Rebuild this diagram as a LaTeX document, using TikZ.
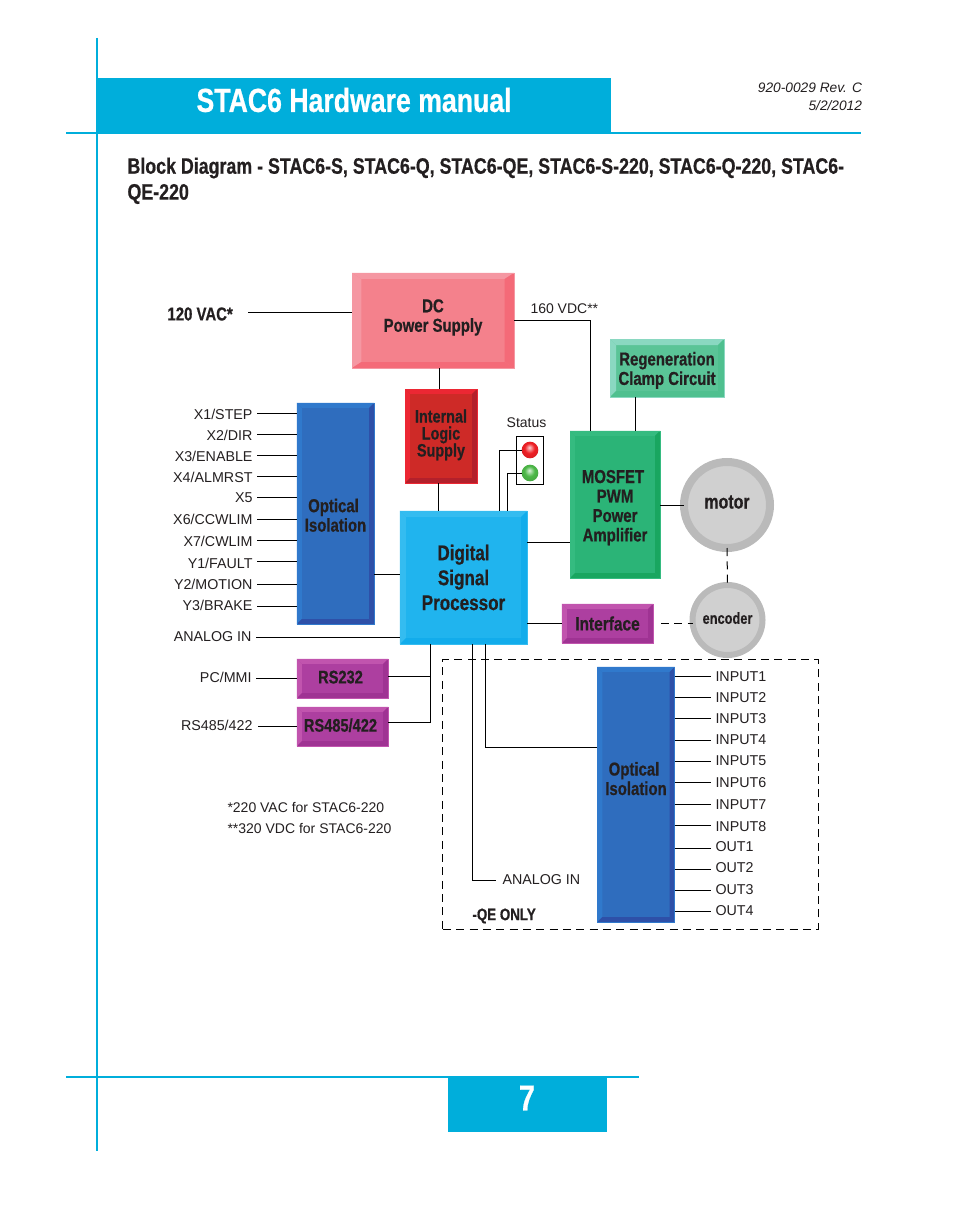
\documentclass[tikz,border=0pt]{standalone}
\usepackage{fontspec}
\setmainfont{Liberation Sans}
\newfontfamily\condfont[FakeStretch=0.8,FakeBold=0.6]{Liberation Sans Bold}

\definecolor{inktext}{HTML}{231F20}
\definecolor{pageblue}{HTML}{00AEDB}
\definecolor{dcface}{HTML}{F4818C}
\definecolor{dclight}{HTML}{F597A2}
\definecolor{dcdark}{HTML}{F46A78}
\definecolor{logicface}{HTML}{CE2A27}
\definecolor{logiclight}{HTML}{EC2733}
\definecolor{logicdark}{HTML}{B3202B}
\definecolor{dspface}{HTML}{20B4EE}
\definecolor{dsplight}{HTML}{34BCF0}
\definecolor{dspdark}{HTML}{12ACEB}
\definecolor{fetface}{HTML}{2BB477}
\definecolor{fetlight}{HTML}{35BB80}
\definecolor{fetdark}{HTML}{19A660}
\definecolor{regenface}{HTML}{5AC497}
\definecolor{regenlight}{HTML}{8AD8C1}
\definecolor{regendark}{HTML}{4FC08F}
\definecolor{purpleface}{HTML}{AD3FA0}
\definecolor{purplelight}{HTML}{C154AE}
\definecolor{purpledark}{HTML}{9F3393}
\definecolor{isoface}{HTML}{2F6DBE}
\definecolor{isolight}{HTML}{3079CC}
\definecolor{isodark}{HTML}{2E50A8}
\definecolor{ringgray}{HTML}{BABABA}
\definecolor{discgray}{HTML}{D0D0D0}
\definecolor{ledred}{HTML}{EE2025}
\definecolor{ledgreen}{HTML}{4DB848}

\pgfdeclareradialshading{lamp_red}{\pgfpoint{-2bp}{8bp}}{color(0bp)=(white!80!ledred); color(15bp)=(ledred); color(30bp)=(ledred!90!black); color(50bp)=(ledred!90!black)}
\pgfdeclareradialshading{lamp_green}{\pgfpoint{-2bp}{8bp}}{color(0bp)=(white!80!ledgreen); color(15bp)=(ledgreen); color(30bp)=(ledgreen!90!black); color(50bp)=(ledgreen!90!black)}

% light colour, dark colour, bevel across, bevel down
\newcommand{\bevelfaces}[4]{
    \coordinate (nw) at (path picture bounding box.north west);
    \coordinate (ne) at (path picture bounding box.north east);
    \coordinate (sw) at (path picture bounding box.south west);
    \coordinate (se) at (path picture bounding box.south east);
    \coordinate (inw) at ([shift={(#3,-#4)}]nw);
    \coordinate (ine) at ([shift={(-#3,-#4)}]ne);
    \coordinate (isw) at ([shift={(#3,#4)}]sw);
    \coordinate (ise) at ([shift={(-#3,#4)}]se);
    \fill[#1] (nw) -- (ne) -- (ine) -- (inw) -- cycle;
    \fill[#1] (nw) -- (sw) -- (isw) -- (inw) -- cycle;
    \fill[#2] (sw) -- (se) -- (ise) -- (isw) -- cycle;
    \fill[#2] (ne) -- (se) -- (ise) -- (ine) -- cycle;
}
\newcommand{\blockfont}[2]{\condfont\fontsize{#1}{#2}\selectfont}
\newcommand{\nudge}{\hspace*{3pt}}

\begin{document}
\begin{tikzpicture}[x=0.75pt, y=-0.75pt, line width=0.75pt, text=inktext]
    \tikzstyle{box_style} = [rectangle, outer sep=0pt, inner sep=0pt, align=center, line width=0.4pt, font=\blockfont{14}{14.6}]
    \tikzstyle{dc_style} = [box_style, fill=dcface, draw=dclight, path picture={\bevelfaces{dclight}{dcdark}{7pt}{4.5pt}}]
    \tikzstyle{logic_style} = [box_style, fill=logicface, draw=logiclight, font=\blockfont{13.5}{12.75}, path picture={\bevelfaces{logiclight}{logicdark}{3.7pt}{3.7pt}}]
    \tikzstyle{dsp_style} = [box_style, fill=dspface, draw=dsplight, font=\blockfont{16}{18.7}, path picture={\bevelfaces{dsplight}{dspdark}{4.5pt}{4.5pt}}]
    \tikzstyle{fet_style} = [box_style, fill=fetface, draw=fetlight, path picture={\bevelfaces{fetlight}{fetdark}{3.7pt}{3.7pt}}]
    \tikzstyle{regen_style} = [box_style, fill=regenface, draw=regenlight, path picture={\bevelfaces{regenlight}{regendark}{4.5pt}{4.5pt}}]
    \tikzstyle{purple_style} = [box_style, fill=purpleface, draw=purplelight, path picture={\bevelfaces{purplelight}{purpledark}{3.7pt}{3.7pt}}]
    \tikzstyle{iso_style} = [box_style, fill=isoface, draw=isolight, minimum width=58pt, path picture={\bevelfaces{isolight}{isodark}{3.7pt}{3.7pt}}]
    \tikzstyle{disc_style} = [circle, fill=discgray, draw=ringgray, outer sep=0pt, inner sep=0pt, align=center]
    \tikzstyle{sig_left} = [anchor=east, inner sep=0pt, font=\fontsize{10.7}{12}\selectfont]
    \tikzstyle{sig_right} = [anchor=west, inner sep=0pt, font=\fontsize{10.7}{12}\selectfont]
    \tikzstyle{note_style} = [anchor=west, inner sep=0pt, font=\fontsize{10.5}{12}\selectfont]
    \tikzstyle{edge_style} = [line width=0.75pt]
    \tikzstyle{dash_style} = [line width=0.75pt, dash pattern=on 6pt off 4pt]

    \useasboundingbox (0,0) rectangle (954,1209);

    % page furniture
    \fill[pageblue] (97,78) rectangle (611,133);
    \fill[pageblue] (448,1077) rectangle (607,1132);
    \draw[pageblue, line width=1.5pt] (97,38) -- (97,1151);
    \draw[pageblue, line width=1.5pt] (66,133) -- (861,133);
    \draw[pageblue, line width=1.5pt] (66,1077) -- (639,1077);

    \node[anchor=west, inner sep=0pt, text=white, font=\blockfont{25}{30}] (title) at (196,100) {STAC6 Hardware manual};
    \node[anchor=east, inner sep=0pt, font=\itshape\fontsize{10.3}{12}\selectfont] (rev) at (862.5,88) {920-0029 Rev. C};
    \node[anchor=east, inner sep=0pt, font=\itshape\fontsize{10.3}{12}\selectfont] (date) at (862.5,106) {5/2/2012};
    \node[anchor=west, inner sep=0pt, font=\blockfont{16.7}{17}] (head1) at (127,168) {Block Diagram - STAC6-S, STAC6-Q, STAC6-QE, STAC6-S-220, STAC6-Q-220, STAC6-};
    \node[anchor=west, inner sep=0pt, font=\blockfont{16.7}{17}] (head2) at (127,194) {QE-220};
    \node[inner sep=0pt, text=white, font=\blockfont{27}{30}] (page) at (527,1098) {7};

    % blocks
    \node[dc_style, minimum width=121.5pt, minimum height=71.3pt] (dc) at (433,320.5) {DC\\Power Supply\\[-7.1pt]};
    \node[logic_style, minimum width=54pt, minimum height=70.5pt] (logic) at (441,436) {Internal\\Logic\\Supply\\[-8.25pt]};
    \node[dsp_style, minimum width=95.3pt, minimum height=99.8pt] (dsp) at (463.5,577.5) {Digital\\Signal\\Processor};
    \node[fet_style, minimum width=67.5pt, minimum height=110.3pt] (fet) at (615,504.5) {MOSFET\nudge\\PWM\nudge\\Power\nudge\\Amplifier\nudge\\[-16.4pt]};
    \node[regen_style, minimum width=85.5pt, minimum height=43.5pt] (regen) at (667,368) {Regeneration\\Clamp Circuit\\[-15.2pt]};
    \node[purple_style, minimum width=68.3pt, minimum height=29.3pt, font=\blockfont{14.5}{16}] (interface) at (607.5,623.5) {Interface};
    \node[iso_style, minimum height=165.8pt] (iso1) at (335.5,513.5) {Optical\nudge\\Isolation\nudge\\[-17pt]};
    \node[iso_style, minimum height=191.3pt] (iso2) at (636,794.5) {Optical\nudge\\Isolation\nudge\\[9.4pt]};
    \node[purple_style, minimum width=68.3pt, minimum height=29.3pt, font=\blockfont{13.7}{14.6}] (rs232) at (342.5,678.5) {RS232\nudge\\[-12.4pt]};
    \node[purple_style, minimum width=68.3pt, minimum height=29.3pt, font=\blockfont{13.7}{14.6}] (rs485) at (342.5,726.5) {RS485/422\nudge\\[-12.4pt]};
    \node[disc_style, minimum size=64.5pt, line width=6pt, font=\blockfont{15}{17}] (motor) at (727,505) {motor\\[-12.5pt]};
    \node[disc_style, minimum size=52.5pt, line width=4.5pt, font=\blockfont{12}{14}] (encoder) at (727.5,620) {encoder\\[-11pt]};

    % status lamp
    \node[draw, rectangle, line width=1.1pt, minimum width=20pt, minimum height=36pt, outer sep=0pt] (lamp) at (530,460.5) {};
    \node[inner sep=0pt, font=\fontsize{10.5}{12}\selectfont] (status) at (526.5,423) {Status};
    \node[circle, minimum size=12.5pt, inner sep=0pt, outer sep=0pt, shading=lamp_red] (led_red) at (530,450) {};
    \node[circle, minimum size=12.5pt, inner sep=0pt, outer sep=0pt, shading=lamp_green] (led_green) at (530,473) {};

    % option frame
    \node[draw, rectangle, dash_style, minimum width=281.3pt, minimum height=201.8pt, outer sep=0pt] (qe) at (630.5,794.5) {};
    \node[anchor=west, inner sep=0pt, font=\blockfont{12.5}{14}] (qeonly) at (472,916) {-QE ONLY};

    % power labels and notes
    \node[anchor=west, inner sep=0pt, font=\blockfont{14}{15}] (vac) at (167,314) {120 VAC*};
    \node[note_style] (vdc) at (530,309) {160 VDC**};
    \node[note_style] (note1) at (227,807) {*220 VAC for STAC6-220};
    \node[note_style] (note2) at (227,828) {**320 VDC for STAC6-220};

    % input signals
    \node[sig_left] (x1) at (253,414) {X1/STEP};
    \node[sig_left] (x2) at (253,435) {X2/DIR};
    \node[sig_left] (x3) at (253,456) {X3/ENABLE};
    \node[sig_left] (x4) at (253,477) {X4/ALMRST};
    \node[sig_left] (x5) at (253,498) {X5};
    \node[sig_left] (x6) at (253,519.5) {X6/CCWLIM};
    \node[sig_left] (x7) at (253,541.5) {X7/CWLIM};
    \node[sig_left] (y1) at (253,563) {Y1/FAULT};
    \node[sig_left] (y2) at (253,584.5) {Y2/MOTION};
    \node[sig_left] (y3) at (253,605.5) {Y3/BRAKE};
    \node[sig_left] (analog1) at (252,636.5) {ANALOG IN};
    \node[sig_left] (pcmmi) at (252,677) {PC/MMI};
    \node[sig_left] (rsport) at (253,725) {RS485/422};

    % option signals
    \node[sig_right] (in1) at (715,677) {INPUT1};
    \node[sig_right] (in2) at (715,698) {INPUT2};
    \node[sig_right] (in3) at (715,719) {INPUT3};
    \node[sig_right] (in4) at (715,740) {INPUT4};
    \node[sig_right] (in5) at (715,761) {INPUT5};
    \node[sig_right] (in6) at (715,783) {INPUT6};
    \node[sig_right] (in7) at (715,805) {INPUT7};
    \node[sig_right] (in8) at (715,827) {INPUT8};
    \node[sig_right] (out1) at (715,847) {OUT1};
    \node[sig_right] (out2) at (715,868) {OUT2};
    \node[sig_right] (out3) at (715,890) {OUT3};
    \node[sig_right] (out4) at (715,911) {OUT4};
    \node[sig_right] (analog2) at (502,880) {ANALOG IN};
    \coordinate (analog2_end) at (496,880.5);

    \draw[edge_style] (248,312.5) -- (dc.west |- 0,312.5);
    \draw[edge_style] (dc.east |- 0,320.5) -- (590.5,320.5) -- (590.5,0 |- fet.north);
    \draw[edge_style] (439.5,0 |- dc.south) -- (439.5,0 |- logic.north);
    \draw[edge_style] (438.5,0 |- logic.south) -- (438.5,0 |- dsp.north);
    \draw[edge_style] (635.5,0 |- regen.south) -- (635.5,0 |- fet.north);
    \draw[edge_style] (fet.east |- motor.west) -- (motor.west);
    \draw[edge_style] (dsp.east |- 0,542.5) -- (fet.west |- 0,542.5);
    \draw[edge_style] (iso1.east |- 0,574.5) -- (dsp.west |- 0,574.5);
    \draw[edge_style] (dsp.east |- 0,623.5) -- (interface.west |- 0,623.5);
    \draw[dash_style] (661,623.5) -- (encoder.west |- 0,623.5);
    \draw[dash_style] (motor.south) -- (encoder.north);
    \draw[edge_style] (led_red.west) -- (499.5,0 |- led_red.west) -- (499.5,0 |- dsp.north);
    \draw[edge_style] (led_green.west) -- (507.5,0 |- led_green.west) -- (507.5,0 |- dsp.north);

    \draw[edge_style] (257,413.5) -- (iso1.west |- 0,413.5);
    \draw[edge_style] (257,434.5) -- (iso1.west |- 0,434.5);
    \draw[edge_style] (257,455.5) -- (iso1.west |- 0,455.5);
    \draw[edge_style] (257,476.5) -- (iso1.west |- 0,476.5);
    \draw[edge_style] (257,497.5) -- (iso1.west |- 0,497.5);
    \draw[edge_style] (257,519.5) -- (iso1.west |- 0,519.5);
    \draw[edge_style] (257,540.5) -- (iso1.west |- 0,540.5);
    \draw[edge_style] (257,561.5) -- (iso1.west |- 0,561.5);
    \draw[edge_style] (257,584.5) -- (iso1.west |- 0,584.5);
    \draw[edge_style] (257,606.5) -- (iso1.west |- 0,606.5);
    \draw[edge_style] (256,637.5) -- (dsp.west |- 0,637.5);
    \draw[edge_style] (256,678.5) -- (rs232.west |- 0,678.5);
    \draw[edge_style] (258,726.5) -- (rs485.west |- 0,726.5);
    \draw[edge_style] (rs232.east |- 0,676.5) -- (430.5,676.5);
    \draw[edge_style] (rs485.east |- 0,722.5) -- (430.5,722.5) -- (430.5,0 |- dsp.south);
    \draw[edge_style] (472.5,0 |- dsp.south) -- (472.5,880.5) -- (analog2_end);
    \draw[edge_style] (485.5,0 |- dsp.south) -- (485.5,747.5) -- (iso2.west |- 0,747.5);

    \draw[edge_style] (iso2.east |- 0,676.5) -- (711,676.5);
    \draw[edge_style] (iso2.east |- 0,697.5) -- (711,697.5);
    \draw[edge_style] (iso2.east |- 0,718.5) -- (711,718.5);
    \draw[edge_style] (iso2.east |- 0,740.5) -- (711,740.5);
    \draw[edge_style] (iso2.east |- 0,761.5) -- (711,761.5);
    \draw[edge_style] (iso2.east |- 0,782.5) -- (711,782.5);
    \draw[edge_style] (iso2.east |- 0,804.5) -- (711,804.5);
    \draw[edge_style] (iso2.east |- 0,825.5) -- (711,825.5);
    \draw[edge_style] (iso2.east |- 0,848.5) -- (711,848.5);
    \draw[edge_style] (iso2.east |- 0,869.5) -- (711,869.5);
    \draw[edge_style] (iso2.east |- 0,890.5) -- (711,890.5);
    \draw[edge_style] (iso2.east |- 0,911.5) -- (711,911.5);
\end{tikzpicture}
\end{document}
